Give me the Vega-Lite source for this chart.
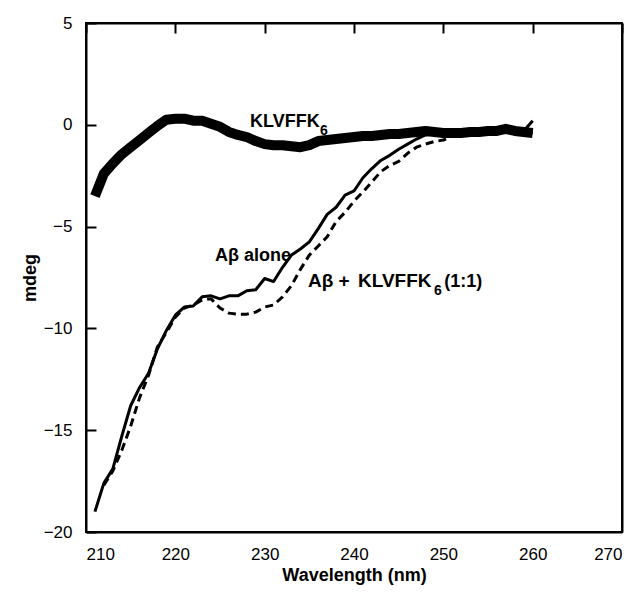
{
  "$schema": "https://vega.github.io/schema/vega-lite/v6.json",
  "width": 536,
  "height": 509,
  "autosize": "none",
  "padding": {"left": 86, "top": 23, "right": 17, "bottom": 66},
  "background": "white",
  "config": {
    "view": {"stroke": "black", "strokeWidth": 2},
    "axis": {"grid": true, "gridColor": "black", "gridWidth": 2, "gridDash": [10, 1000], "gridOpacity": 1, "tickColor": "black", "tickOpacity": 0, "tickWidth": 2, "tickSize": 12, "domainColor": "black", "domainWidth": 2, "labelFontSize": 17, "labelColor": "black", "titleFontSize": 18, "titleFontWeight": "bold", "titleColor": "black"}
  },
  "data": {"values": [
      {"series": "K", "wl": 211, "v": -3.5},
      {"series": "K", "wl": 212, "v": -2.4},
      {"series": "K", "wl": 213, "v": -1.9},
      {"series": "K", "wl": 214, "v": -1.45},
      {"series": "K", "wl": 215, "v": -1.1},
      {"series": "K", "wl": 216, "v": -0.75},
      {"series": "K", "wl": 217, "v": -0.4},
      {"series": "K", "wl": 218, "v": -0.05},
      {"series": "K", "wl": 219, "v": 0.25},
      {"series": "K", "wl": 220, "v": 0.3},
      {"series": "K", "wl": 221, "v": 0.3},
      {"series": "K", "wl": 222, "v": 0.2},
      {"series": "K", "wl": 223, "v": 0.2},
      {"series": "K", "wl": 224, "v": 0.05},
      {"series": "K", "wl": 225, "v": -0.1},
      {"series": "K", "wl": 226, "v": -0.35},
      {"series": "K", "wl": 227, "v": -0.5},
      {"series": "K", "wl": 228, "v": -0.6},
      {"series": "K", "wl": 229, "v": -0.8},
      {"series": "K", "wl": 230, "v": -0.95},
      {"series": "K", "wl": 231, "v": -1.0},
      {"series": "K", "wl": 232, "v": -1.0},
      {"series": "K", "wl": 233, "v": -1.05},
      {"series": "K", "wl": 234, "v": -1.1},
      {"series": "K", "wl": 235, "v": -1.0},
      {"series": "K", "wl": 236, "v": -0.8},
      {"series": "K", "wl": 237, "v": -0.75},
      {"series": "K", "wl": 238, "v": -0.7},
      {"series": "K", "wl": 239, "v": -0.65},
      {"series": "K", "wl": 240, "v": -0.6},
      {"series": "K", "wl": 241, "v": -0.55},
      {"series": "K", "wl": 242, "v": -0.55},
      {"series": "K", "wl": 243, "v": -0.5},
      {"series": "K", "wl": 244, "v": -0.45},
      {"series": "K", "wl": 245, "v": -0.45},
      {"series": "K", "wl": 246, "v": -0.4},
      {"series": "K", "wl": 247, "v": -0.35},
      {"series": "K", "wl": 248, "v": -0.3},
      {"series": "K", "wl": 249, "v": -0.35},
      {"series": "K", "wl": 250, "v": -0.4},
      {"series": "K", "wl": 251, "v": -0.4},
      {"series": "K", "wl": 252, "v": -0.4},
      {"series": "K", "wl": 253, "v": -0.35},
      {"series": "K", "wl": 254, "v": -0.35},
      {"series": "K", "wl": 255, "v": -0.3},
      {"series": "K", "wl": 256, "v": -0.3},
      {"series": "K", "wl": 257, "v": -0.2},
      {"series": "K", "wl": 258, "v": -0.3},
      {"series": "K", "wl": 259, "v": -0.35},
      {"series": "K", "wl": 260, "v": -0.4},
      {"series": "A", "wl": 211, "v": -19.0},
      {"series": "A", "wl": 212, "v": -17.6},
      {"series": "A", "wl": 213, "v": -16.9},
      {"series": "A", "wl": 214, "v": -15.3},
      {"series": "A", "wl": 215, "v": -13.8},
      {"series": "A", "wl": 216, "v": -12.9},
      {"series": "A", "wl": 217, "v": -12.2},
      {"series": "A", "wl": 218, "v": -11.0},
      {"series": "A", "wl": 219, "v": -10.1},
      {"series": "A", "wl": 220, "v": -9.35},
      {"series": "A", "wl": 221, "v": -8.95},
      {"series": "A", "wl": 222, "v": -8.9},
      {"series": "A", "wl": 223, "v": -8.45},
      {"series": "A", "wl": 224, "v": -8.4},
      {"series": "A", "wl": 225, "v": -8.55},
      {"series": "A", "wl": 226, "v": -8.4},
      {"series": "A", "wl": 227, "v": -8.4},
      {"series": "A", "wl": 228, "v": -8.15},
      {"series": "A", "wl": 229, "v": -8.1},
      {"series": "A", "wl": 230, "v": -7.55},
      {"series": "A", "wl": 231, "v": -7.7},
      {"series": "A", "wl": 232, "v": -7.0},
      {"series": "A", "wl": 233, "v": -6.4},
      {"series": "A", "wl": 234, "v": -6.1},
      {"series": "A", "wl": 235, "v": -5.75},
      {"series": "A", "wl": 236, "v": -5.1},
      {"series": "A", "wl": 237, "v": -4.4},
      {"series": "A", "wl": 238, "v": -4.05},
      {"series": "A", "wl": 239, "v": -3.45},
      {"series": "A", "wl": 240, "v": -3.25},
      {"series": "A", "wl": 241, "v": -2.6},
      {"series": "A", "wl": 242, "v": -2.15},
      {"series": "A", "wl": 243, "v": -1.75},
      {"series": "A", "wl": 244, "v": -1.5},
      {"series": "A", "wl": 245, "v": -1.2},
      {"series": "A", "wl": 246, "v": -0.95},
      {"series": "A", "wl": 247, "v": -0.7},
      {"series": "A", "wl": 248, "v": -0.5},
      {"series": "A", "wl": 249, "v": -0.45},
      {"series": "A", "wl": 250, "v": -0.4},
      {"series": "A", "wl": 251, "v": -0.45},
      {"series": "A", "wl": 252, "v": -0.4},
      {"series": "A", "wl": 253, "v": -0.4},
      {"series": "A", "wl": 254, "v": -0.35},
      {"series": "A", "wl": 255, "v": -0.35},
      {"series": "A", "wl": 256, "v": -0.3},
      {"series": "A", "wl": 257, "v": -0.3},
      {"series": "A", "wl": 258, "v": -0.35},
      {"series": "A", "wl": 259, "v": -0.3},
      {"series": "A", "wl": 260, "v": 0.2},
      {"series": "M", "wl": 212, "v": -17.7},
      {"series": "M", "wl": 213, "v": -17.0},
      {"series": "M", "wl": 214, "v": -16.0},
      {"series": "M", "wl": 215, "v": -14.8},
      {"series": "M", "wl": 216, "v": -13.4},
      {"series": "M", "wl": 217, "v": -12.3},
      {"series": "M", "wl": 218, "v": -10.9},
      {"series": "M", "wl": 219, "v": -10.2},
      {"series": "M", "wl": 220, "v": -9.45},
      {"series": "M", "wl": 221, "v": -9.0},
      {"series": "M", "wl": 222, "v": -8.85},
      {"series": "M", "wl": 223, "v": -8.6},
      {"series": "M", "wl": 224, "v": -8.55},
      {"series": "M", "wl": 225, "v": -9.0},
      {"series": "M", "wl": 226, "v": -9.25},
      {"series": "M", "wl": 227, "v": -9.3},
      {"series": "M", "wl": 228, "v": -9.3},
      {"series": "M", "wl": 229, "v": -9.2},
      {"series": "M", "wl": 230, "v": -8.95},
      {"series": "M", "wl": 231, "v": -8.85},
      {"series": "M", "wl": 232, "v": -8.45},
      {"series": "M", "wl": 233, "v": -7.9},
      {"series": "M", "wl": 234, "v": -7.1},
      {"series": "M", "wl": 235, "v": -6.4},
      {"series": "M", "wl": 236, "v": -5.95},
      {"series": "M", "wl": 237, "v": -5.5},
      {"series": "M", "wl": 238, "v": -4.75},
      {"series": "M", "wl": 239, "v": -4.3},
      {"series": "M", "wl": 240, "v": -3.75},
      {"series": "M", "wl": 241, "v": -3.3},
      {"series": "M", "wl": 242, "v": -2.8},
      {"series": "M", "wl": 243, "v": -2.3},
      {"series": "M", "wl": 244, "v": -2.0},
      {"series": "M", "wl": 245, "v": -1.8},
      {"series": "M", "wl": 246, "v": -1.4},
      {"series": "M", "wl": 247, "v": -1.1},
      {"series": "M", "wl": 248, "v": -0.95},
      {"series": "M", "wl": 249, "v": -0.82},
      {"series": "M", "wl": 250, "v": -0.75},
      {"series": "M", "wl": 251, "v": -0.55},
      {"series": "M", "wl": 252, "v": -0.45},
      {"series": "M", "wl": 254, "v": -0.4},
      {"series": "M", "wl": 256, "v": -0.35},
      {"series": "M", "wl": 258, "v": -0.35},
      {"series": "M", "wl": 260, "v": -0.4},
      {"series": "L", "label": "KLVFFK", "wl": 228.36, "v": -0.1, "size": 18},
      {"series": "L", "label": "Aβ alone", "wl": 224.44, "v": -6.69, "size": 18},
      {"series": "L", "label": "Aβ +", "wl": 234.85, "v": -7.97, "size": 19},
      {"series": "L", "label": "KLVFFK", "wl": 240.45, "v": -7.97, "size": 19},
      {"series": "L", "label": "(1:1)", "wl": 250.1, "v": -7.97, "size": 18},
      {"series": "S", "label": "6", "wl": 236.2, "v": -0.5, "size": 14},
      {"series": "S", "label": "6", "wl": 248.96, "v": -8.36, "size": 14}
  ]},
  "layer": [
    {
      "transform": [{"filter": "datum.series === 'K'"}],
      "mark": {"type": "line", "color": "black", "strokeWidth": 10, "strokeCap": "butt", "strokeJoin": "round"},
      "encoding": {
        "x": {"field": "wl", "type": "quantitative",
              "scale": {"domain": [210, 270], "nice": false, "zero": false},
              "axis": {"tickCount": 6, "title": "Wavelength (nm)"}},
        "y": {"field": "v", "type": "quantitative",
              "scale": {"domain": [-20, 5], "nice": false, "zero": false},
              "axis": {"tickCount": 5, "title": "mdeg"}}
      }
    },
    {
      "transform": [{"filter": "datum.series === 'A'"}],
      "mark": {"type": "line", "color": "black", "strokeWidth": 3, "strokeJoin": "round"},
      "encoding": {
        "x": {"field": "wl", "type": "quantitative", "scale": {"domain": [210, 270], "nice": false, "zero": false}, "axis": {"orient": "top", "tickCount": 6, "labels": false, "title": null}},
        "y": {"field": "v", "type": "quantitative", "scale": {"domain": [-20, 5], "nice": false, "zero": false}, "axis": {"orient": "right", "tickCount": 5, "labels": false, "title": null}}
      }
    },
    {
      "transform": [{"filter": "datum.series === 'M'"}],
      "mark": {"type": "line", "color": "black", "strokeWidth": 3, "strokeDash": [8, 5], "strokeJoin": "round"},
      "encoding": {
        "x": {"field": "wl", "type": "quantitative", "scale": {"domain": [210, 270], "nice": false, "zero": false}, "axis": null},
        "y": {"field": "v", "type": "quantitative", "scale": {"domain": [-20, 5], "nice": false, "zero": false}, "axis": null}
      }
    },
    {
      "transform": [{"filter": "datum.series === 'L' || datum.series === 'S'"}],
      "mark": {"type": "text", "align": "left", "baseline": "alphabetic", "font": "Liberation Sans", "fontWeight": "bold", "color": "black"},
      "encoding": {
        "x": {"field": "wl", "type": "quantitative", "scale": {"domain": [210, 270], "nice": false, "zero": false}, "axis": null},
        "y": {"field": "v", "type": "quantitative", "scale": {"domain": [-20, 5], "nice": false, "zero": false}, "axis": null},
        "size": {"field": "size", "type": "quantitative", "scale": null},
        "text": {"field": "label"}
      }
    }
  ],
  "resolve": {"scale": {"x": "independent", "y": "independent"}, "axis": {"x": "independent", "y": "independent"}}
}
